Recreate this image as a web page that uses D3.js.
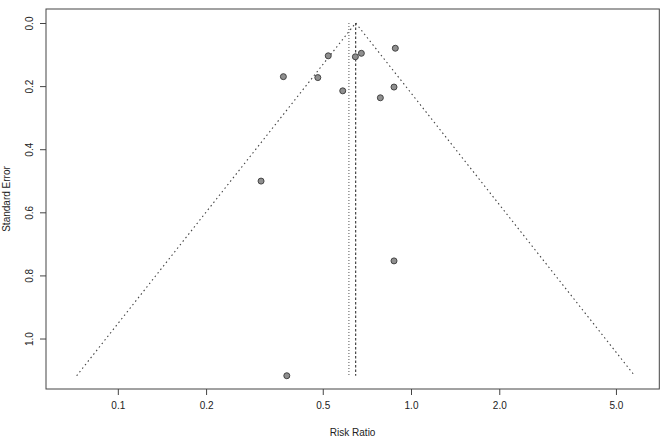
<!DOCTYPE html>
<html>
<head>
<meta charset="utf-8">
<script src="https://cdn.jsdelivr.net/npm/d3@7"></script>
<style>
  body { margin: 0; background: #fff; }
  text { font-family: "Liberation Sans", Arial, sans-serif; fill: #222; }
</style>
</head>
<body>
<div id="chart"></div>
<script>
// study estimates
const riskRatio = [0.367, 0.481, 0.522, 0.585, 0.646, 0.677, 0.884, 0.875, 0.786, 0.308, 0.875, 0.377];
const stdError = [0.170, 0.173, 0.104, 0.215, 0.107, 0.096, 0.080, 0.203, 0.237, 0.501, 0.754, 1.118];
const pooledRR = 0.6475;   // funnel centre (dashed)
const altRR = 0.614;       // second estimate (dotted)
const xTicks = [0.1, 0.2, 0.5, 1, 2, 5];
const yTicks = [0, 0.2, 0.4, 0.6, 0.8, 1.0];

const width = 669, height = 443;
const svg = d3.select('#chart').append('svg')
    .attr('width', width)
    .attr('height', height);

const box = {left: 46, right: 659.3, top: 9, bottom: 389};

const x = d3.scaleLog().domain([0.05689, 7.028]).range([box.left, box.right]);
const y = d3.scaleLinear().domain([-0.0444, 1.160]).range([box.top, box.bottom]);

const seMax = d3.max(stdError);
const z = 1.96;

// funnel
const funnel = [
  [pooledRR * Math.exp(-z * seMax), seMax],
  [pooledRR, 0],
  [pooledRR * Math.exp(z * seMax), seMax]
];
svg.append('path')
    .datum(funnel)
    .attr('fill', 'none')
    .attr('stroke', '#444')
    .attr('stroke-width', 1.1)
    .attr('stroke-dasharray', '1.5,3')
    .attr('d', d3.line().x(d => x(d[0])).y(d => y(d[1])));

// reference lines
svg.append('line')
    .attr('x1', x(altRR)).attr('x2', x(altRR))
    .attr('y1', y(0)).attr('y2', y(seMax))
    .attr('stroke', '#555')
    .attr('stroke-width', 1)
    .attr('stroke-dasharray', '1,2');

svg.append('line')
    .attr('x1', x(pooledRR)).attr('x2', x(pooledRR))
    .attr('y1', y(0)).attr('y2', y(seMax))
    .attr('stroke', '#333')
    .attr('stroke-width', 1.1)
    .attr('stroke-dasharray', '2.5,2');

// points
svg.append('g')
  .selectAll('circle')
  .data(riskRatio.map((r, i) => ({rr: r, se: stdError[i]})))
  .join('circle')
    .attr('cx', d => x(d.rr))
    .attr('cy', d => y(d.se))
    .attr('r', 3)
    .attr('fill', '#8f8f8f')
    .attr('stroke', '#444')
    .attr('stroke-width', 1);

// box
svg.append('rect')
    .attr('x', box.left).attr('y', box.top)
    .attr('width', box.right - box.left).attr('height', box.bottom - box.top)
    .attr('fill', 'none')
    .attr('stroke', '#444')
    .attr('stroke-width', 1);

// x axis
const xAxis = svg.append('g')
    .attr('transform', 'translate(0,' + box.bottom + ')')
    .call(d3.axisBottom(x).tickValues(xTicks).tickFormat(d3.format('.1f')).tickSize(6).tickPadding(7));
xAxis.select('.domain').remove();
xAxis.selectAll('line').attr('stroke', '#444');
xAxis.selectAll('text')
    .style('font-size', '10px')
    .style('font-family', '"Liberation Sans", Arial, sans-serif')
    .attr('fill', '#222');

// y axis
const yAxis = svg.append('g')
    .attr('transform', 'translate(' + box.left + ',0)')
    .call(d3.axisLeft(y).tickValues(yTicks).tickFormat(d3.format('.1f')).tickSize(6));
yAxis.select('.domain').remove();
yAxis.selectAll('line').attr('stroke', '#444');
yAxis.selectAll('text')
    .attr('x', null).attr('dy', null)
    .attr('text-anchor', 'middle')
    .attr('transform', 'translate(-13.5,0) rotate(-90)')
    .style('font-size', '10px')
    .style('font-family', '"Liberation Sans", Arial, sans-serif')
    .attr('fill', '#222');

// titles
svg.append('text')
    .attr('x', (box.left + box.right) / 2)
    .attr('y', 436)
    .attr('text-anchor', 'middle')
    .style('font-size', '10px')
    .text('Risk Ratio');

svg.append('text')
    .attr('transform', 'translate(10,' + ((box.top + box.bottom) / 2) + ') rotate(-90)')
    .attr('text-anchor', 'middle')
    .style('font-size', '10px')
    .text('Standard Error');
</script>
</body>
</html>
